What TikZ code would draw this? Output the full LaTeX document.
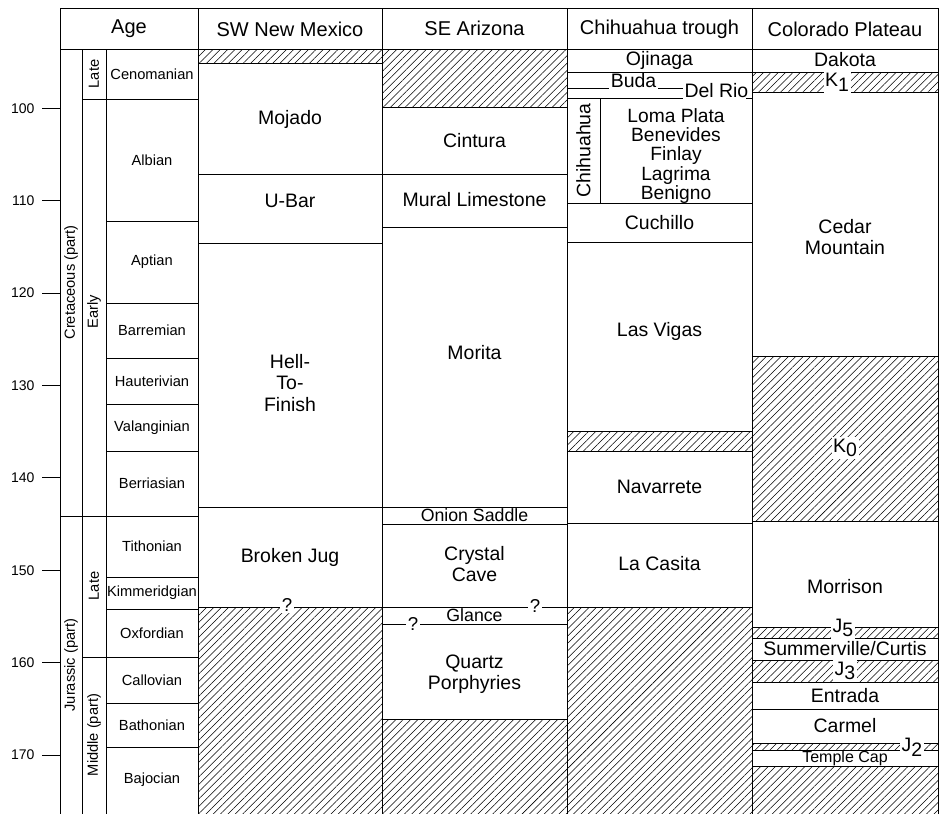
\documentclass[tikz,border=0pt]{standalone}
\usepackage{fontspec}
\setmainfont{Liberation Sans}
\usetikzlibrary{patterns.meta}
\newcommand{\lowsub}[1]{\raisebox{-0.45ex}{#1}}
\begin{document}
\begin{tikzpicture}[x=0.75pt,y=-0.75pt,line width=0.75pt,
  hatch/.style={pattern={Lines[angle=45,distance=3.9pt,line width=0.4pt]}},
  hdr/.style={font=\fontsize{15}{16}\selectfont,inner sep=0pt},
  fm/.style={font=\fontsize{14.6}{16}\selectfont,align=center,inner sep=0pt},
  mem/.style={font=\fontsize{14.4}{14.6}\selectfont,align=center,inner sep=0pt},
  smallfm/.style={font=\fontsize{13.3}{14}\selectfont,inner sep=0pt},
  tinyfm/.style={font=\fontsize{12}{13}\selectfont,inner sep=0pt},
  stg/.style={font=\fontsize{11}{13}\selectfont,inner sep=0pt},
  rot/.style={font=\fontsize{11}{13}\selectfont,rotate=90,inner sep=0pt},
  tick/.style={font=\fontsize{10.5}{12}\selectfont,anchor=east,inner sep=0pt},
  gap/.style={font=\fontsize{14.6}{16}\selectfont,fill=white,inner sep=1.2pt},
  qm/.style={font=\fontsize{14}{16}\selectfont,fill=white,inner sep=1.2pt},
]
\useasboundingbox (0,0) rectangle (943,814);
% hatched (hiatus) areas
\path[hatch] (198,49) rectangle (382,63);
\path[hatch] (198,607) rectangle (382,814);
\path[hatch] (382,49) rectangle (567,107);
\path[hatch] (382,719) rectangle (567,814);
\path[hatch] (567,431) rectangle (752,451);
\path[hatch] (567,607) rectangle (752,814);
\path[hatch] (752,72) rectangle (938,92);
\path[hatch] (752,356) rectangle (938,521);
\path[hatch] (752,627) rectangle (938,638);
\path[hatch] (752,660) rectangle (938,682);
\path[hatch] (752,743) rectangle (938,750);
\path[hatch] (752,766) rectangle (938,814);
% frame
\draw (60,814) -- (60,8) -- (938,8) -- (938,814);
\draw (60,49) -- (938,49);
\foreach \x in {82,106} \draw (\x,49) -- (\x,814);
\foreach \x in {198,382,567,752} \draw (\x,8) -- (\x,814);
% stage / epoch / era boundaries
\foreach \y in {221,303,358,404,451,577,609,703,747} \draw (106,\y) -- (198,\y);
\draw (82,99) -- (198,99);
\draw (60,516) -- (198,516);
\draw (82,657) -- (198,657);
% ticks
\foreach \t/\y in {100/108.3,110/200.7,120/293.1,130/385.5,140/477.9,150/570.3,160/662.7,170/755.1}{
  \draw (42,\y) -- (60,\y);
  \node[tick] (t\t) at (35,\y) {\t};
}
% SW New Mexico lines
\foreach \y in {63,174,243,507,607} \draw (198,\y) -- (382,\y);
% SE Arizona lines
\foreach \y in {107,174,227,507,524,607,624,719} \draw (382,\y) -- (567,\y);
% Chihuahua trough lines
\foreach \y in {72,203,242,431,451,523,607} \draw (567,\y) -- (752,\y);
\draw (567,88) -- (609,88);
\draw (658,88) -- (683,88);
\draw (567,98) -- (683,98);
\draw (746,98) -- (752,98);
\draw (600,98) -- (600,203);
% Colorado Plateau lines
\foreach \y in {72,92,356,521,627,638,660,682,709,743,750,766} \draw (752,\y) -- (938,\y);

% headers
\node[hdr] (hage) at (129,29) {Age};
\node[hdr] (hswnm) at (290,29) {SW New Mexico};
\node[hdr] (hseaz) at (474.5,28) {SE Arizona};
\node[hdr] (hchih) at (659.5,29) {Chihuahua trough};
\node[hdr] (hcolo) at (845,29) {Colorado Plateau};

% eras / epochs
\node[rot] (cret) at (71,282.5) {Cretaceous (part)};
\node[rot] (jura) at (71,665) {Jurassic (part)};
\node[rot] (klate) at (94,74) {Late};
\node[rot] (kearly) at (94,312) {Early};
\node[rot] (jlate) at (94,586) {Late};
\node[rot] (jmid) at (94,735) {Middle (part)};
% stages
\node[stg] (s1) at (152,74) {Cenomanian};
\node[stg] (s2) at (152,160) {Albian};
\node[stg] (s3) at (152,262) {Aptian};
\node[stg] (s4) at (152,330.5) {Barremian};
\node[stg] (s5) at (152,381) {Hauterivian};
\node[stg] (s6) at (152,427.5) {Valanginian};
\node[stg] (s7) at (152,483.5) {Berriasian};
\node[stg] (s8) at (152,546.5) {Tithonian};
\node[stg] (s9) at (152,593) {Kimmeridgian};
\node[stg] (s10) at (152,633) {Oxfordian};
\node[stg] (s11) at (152,680) {Callovian};
\node[stg] (s12) at (152,725) {Bathonian};
\node[stg] (s13) at (152,780) {Bajocian};

% SW New Mexico
\node[fm] (mojado) at (290,119) {Mojado};
\node[fm] (ubar) at (290,201) {U-Bar};
\node[fm] (htf) at (290,383) {Hell-\\To-\\Finish};
\node[fm] (bjug) at (290,557) {Broken Jug};
\node[qm] (q1) at (287,605) {?};

% SE Arizona
\node[fm] (cintura) at (474.5,141) {Cintura};
\node[fm] (mural) at (474.5,200) {Mural Limestone};
\node[fm] (morita) at (474.5,353) {Morita};
\node[smallfm] (onion) at (474.5,515.5) {Onion Saddle};
\node[fm] (crystal) at (474.5,564) {Crystal\\Cave};
\node[smallfm] (glance) at (474.5,615.5) {Glance};
\node[qm] (q2) at (535,606) {?};
\node[qm] (q3) at (413,624) {?};
\node[fm] (quartz) at (474.5,674) {Quartz\\Porphyries};

% Chihuahua trough
\node[fm] (ojinaga) at (659.5,60) {Ojinaga};
\node[fm,anchor=base] (buda) at (633.5,87) {Buda};
\node[fm,anchor=base west] (delrio) at (684,97) {Del Rio};
\node[fm,rotate=90] (chgrp) at (583.5,150.5) {Chihuahua};
\node[mem] (members) at (676,156) {Loma Plata\\Benevides\\Finlay\\Lagrima\\Benigno};
\node[fm] (cuchillo) at (659.5,222.5) {Cuchillo};
\node[fm] (lasvigas) at (659.5,331) {Las Vigas};
\node[fm] (navarrete) at (659.5,487) {Navarrete};
\node[fm] (lacasita) at (659.5,564) {La Casita};

% Colorado Plateau
\node[fm] (dakota) at (845,60) {Dakota};
\node[gap] (k1) at (837,82) {K\lowsub{1}};
\node[fm] (cedar) at (845,237) {Cedar\\Mountain};
\node[gap] (k0) at (845,448) {K\lowsub{0}};
\node[fm] (morrison) at (845,587) {Morrison};
\node[gap] (j5) at (843,628) {J\lowsub{5}};
\node[fm] (summer) at (845,649) {Summerville/Curtis};
\node[gap] (j3) at (845,671) {J\lowsub{3}};
\node[fm] (entrada) at (845,695.5) {Entrada};
\node[fm] (carmel) at (845,726) {Carmel};
\node[gap] (j2) at (912,747) {J\lowsub{2}};
\node[tinyfm] (temple) at (845,758.5) {Temple Cap};
\end{tikzpicture}
\end{document}
